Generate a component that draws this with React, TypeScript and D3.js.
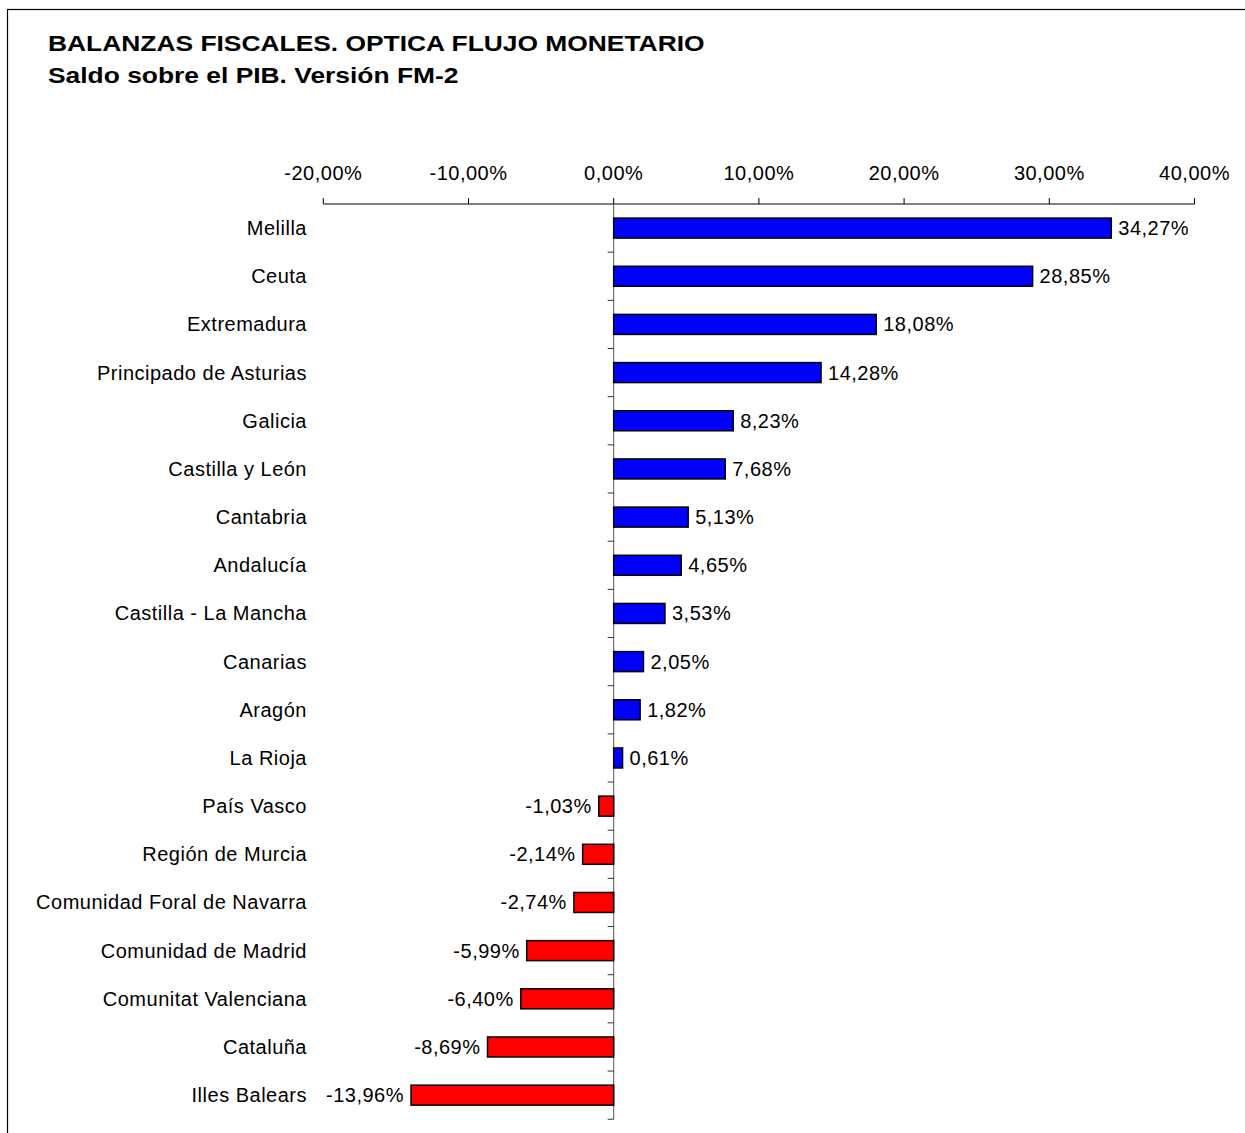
import React from "react";
import * as d3 from "d3";

const categories = [
  "Melilla",
  "Ceuta",
  "Extremadura",
  "Principado de Asturias",
  "Galicia",
  "Castilla y León",
  "Cantabria",
  "Andalucía",
  "Castilla - La Mancha",
  "Canarias",
  "Aragón",
  "La Rioja",
  "País Vasco",
  "Región de Murcia",
  "Comunidad Foral de Navarra",
  "Comunidad de Madrid",
  "Comunitat Valenciana",
  "Cataluña",
  "Illes Balears",
];

const values = [
  34.27, 28.85, 18.08, 14.28, 8.23, 7.68, 5.13, 4.65, 3.53, 2.05, 1.82, 0.61,
  -1.03, -2.14, -2.74, -5.99, -6.4, -8.69, -13.96,
];

const xTicks = [-20, -10, 0, 10, 20, 30, 40];

const title1 = "BALANZAS FISCALES. OPTICA FLUJO MONETARIO";
const title2 = "Saldo sobre el PIB. Versión FM-2";

const fmt = (v: number) => v.toFixed(2).replace(".", ",") + "%";

export default function App() {
  const W = 1245;
  const H = 1133;
  const x = d3.scaleLinear().domain([-20, 40]).range([323.3, 1194.5]);
  const y = d3
    .scaleBand<string>()
    .domain(categories)
    .range([204, 204 + 19 * 48.17])
    .paddingInner(0.585)
    .paddingOuter(0.2925);
  const band = y.step();
  const axisTop = 204;
  const axisBottom = 204 + 19 * band;
  const font = "'Liberation Sans', Arial, sans-serif";
  const fs = 20;
  const ls = 0.5;
  return (
    <svg
      width={W}
      height={H}
      style={{ position: "absolute", left: 0, top: 0, background: "#fff" }}
      fontFamily={font}
    >
      <rect x={0} y={0} width={W} height={H} fill="#fff" />
      <rect x={7.5} y={9.5} width={W + 10} height={H + 10} fill="none" stroke="#000" strokeWidth={1.2} />
      <text transform="translate(48,50.5) scale(1.2,1)" fontSize={22} fontWeight="bold" fill="#000">
        {title1}
      </text>
      <text transform="translate(48,82.5) scale(1.2,1)" fontSize={22} fontWeight="bold" fill="#000">
        {title2}
      </text>
      {/* top axis */}
      <line x1={x(-20)} x2={x(40)} y1={axisTop} y2={axisTop} stroke="#000" strokeWidth={1} />
      {xTicks.map((t) => (
        <g key={t}>
          <line x1={x(t)} x2={x(t)} y1={axisTop - 6} y2={axisTop} stroke="#000" strokeWidth={1} />
          <text x={x(t)} y={axisTop - 24} textAnchor="middle" fontSize={fs} letterSpacing={ls} fill="#000">
            {fmt(t)}
          </text>
        </g>
      ))}
      {/* vertical axis */}
      <line x1={x(0)} x2={x(0)} y1={axisTop} y2={axisBottom} stroke="#555" strokeWidth={1} />
      {categories.map((_, i) => (
        <line
          key={"t" + i}
          x1={x(0) - 6}
          x2={x(0)}
          y1={axisTop + (i + 1) * band}
          y2={axisTop + (i + 1) * band}
          stroke="#333"
          strokeWidth={1}
        />
      ))}
      {categories.map((c, i) => {
        const v = values[i];
        const yy = y(c)!;
        const x0 = x(Math.min(0, v));
        const x1 = x(Math.max(0, v));
        const cy = yy + y.bandwidth() / 2;
        return (
          <g key={c}>
            <rect
              x={x0}
              y={yy}
              width={x1 - x0}
              height={y.bandwidth()}
              fill={v >= 0 ? "#0000FF" : "#FF0000"}
              stroke="#000"
              strokeWidth={1.5}
            />
            <text
              x={v >= 0 ? x1 + 7 : x0 - 7}
              y={cy}
              dy="0.35em"
              textAnchor={v >= 0 ? "start" : "end"}
              fontSize={fs}
              letterSpacing={ls}
              fill="#000"
            >
              {fmt(v)}
            </text>
            <text x={307} y={cy} dy="0.35em" textAnchor="end" fontSize={fs} letterSpacing={ls} fill="#000">
              {c}
            </text>
          </g>
        );
      })}
    </svg>
  );
}
